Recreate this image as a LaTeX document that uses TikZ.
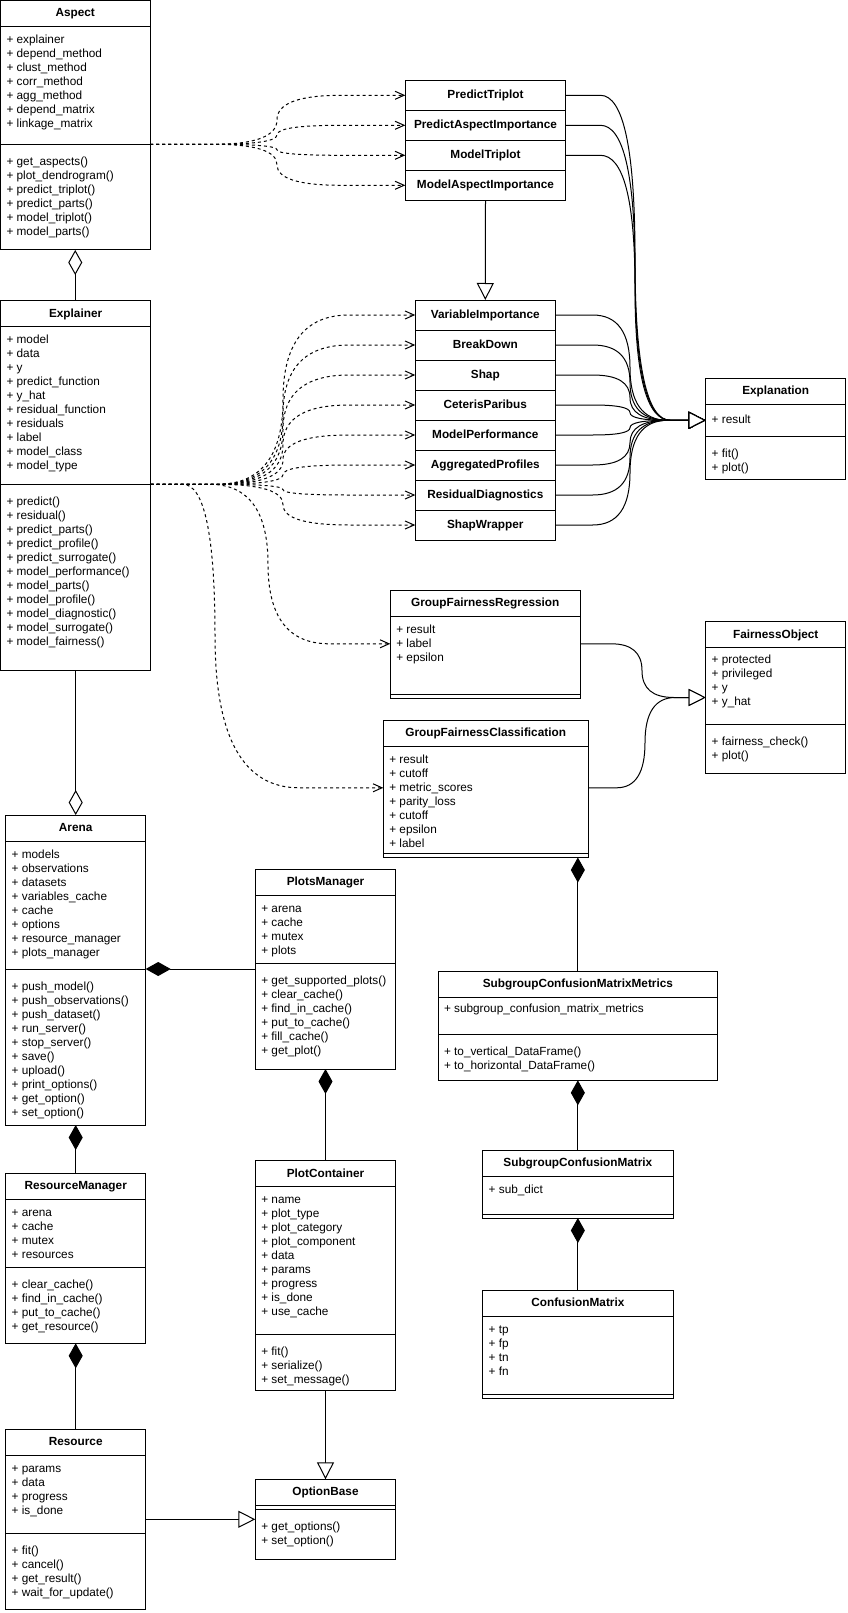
\documentclass[tikz,border=0pt]{standalone}
\usepackage{fontspec}
\setmainfont{Liberation Sans}
\usetikzlibrary{arrows.meta,calc}
\newcommand\dfont{\fontsize{11.8}{14}\selectfont}
\newcommand\ocurve[4][]{%
 \draw[#1] let \p1=(#2), \p2=(#4), \p3=(#3,0) in
   (\p1) -- ({(\x1+\x3)/2},\y1)
   .. controls ({\x1/6+5*\x3/6},\y1) and (\x3,{5*\y1/6+\y2/6})
   .. (\x3,{(\y1+\y2)/2})
   .. controls (\x3,{\y1/6+5*\y2/6}) and ({5*\x3/6+\x2/6},\y2)
   .. ({(\x3+\x2)/2},\y2) -- (\p2);}
\newcommand\clsbox[6]{%
  \node[umlbox, minimum width={#4-(#2)}, minimum height={#5-(#3)}] (#1) at (#2,#3) {};
  \node[ttl] (#1-t) at ({(#2+#4)/2},{#3+13}) {#6};
  \draw[lw] (#2,#3+26) -- (#4,#3+26);}
\newcommand\uattrs[4]{\foreach \t [count=\i from 0] in {#4}{\node[txt] (#1-a\i) at (#2+6,#3+39.5+14*\i) {\t};}}
\newcommand\umeths[4]{\foreach \t [count=\i from 0] in {#4}{\node[txt] (#1-m\i) at (#2+6,#3+18+14*\i) {\t};}}
\newcommand\hsep[3]{\draw[lw] (#1,#3) -- (#2,#3);}
\begin{document}
\begin{tikzpicture}[x=1pt,y=-1pt,
  every node/.style={inner sep=0pt,outer sep=0pt},
  font=\dfont,
  lw/.style={line width=1pt},
  umlbox/.style={draw,line width=1pt,anchor=north west},
  txt/.style={anchor=west,text height=9pt,text depth=2pt,font=\dfont},
  ttl/.style={anchor=center,text height=9pt,text depth=2pt,font=\dfont\bfseries},
  rowbox/.style={draw,line width=1pt,anchor=north west,minimum height=30pt,text height=9pt,text depth=2pt,font=\dfont\bfseries},
  dep/.style={line width=1pt,dash pattern=on 3pt off 3pt,-{Straight Barb[length=9pt,width=8pt]}},
  inh/.style={line width=1pt,-{Triangle[fill=white,length=17pt,width=17pt]}},
  agg/.style={line width=1pt,{Diamond[fill=white,length=25pt,width=14pt]}-},
  aggend/.style={line width=1pt,-{Diamond[fill=white,length=25pt,width=14pt]}},
  comp/.style={line width=1pt,{Diamond[length=25pt,width=14pt]}-}
]
\fill[white] (0,0) rectangle (847,1613);
\useasboundingbox (0,0) rectangle (847,1613);

% ---------- Aspect
\clsbox{asp}{0.5}{0.5}{150}{250}{Aspect}
\uattrs{asp}{0.5}{0.5}{+ explainer,+ depend\_method,+ clust\_method,+ corr\_method,+ agg\_method,+ depend\_matrix,+ linkage\_matrix}
\hsep{0.5}{150}{144.3}
\umeths{asp}{0.5}{144.3}{+ get\_aspects(),+ plot\_dendrogram(),+ predict\_triplot(),+ predict\_parts(),+ model\_triplot(),+ model\_parts()}

% ---------- Explainer
\clsbox{exr}{0.5}{300.7}{150.7}{670}{Explainer}
\uattrs{exr}{0.5}{300.7}{+ model,+ data,+ y,+ predict\_function,+ y\_hat,+ residual\_function,+ residuals,+ label,+ model\_class,+ model\_type}
\hsep{0.5}{150.7}{484.3}
\umeths{exr}{0.5}{484.3}{+ predict(),+ residual(),+ predict\_parts(),+ predict\_profile(),+ predict\_surrogate(),+ model\_performance(),+ model\_parts(),+ model\_profile(),+ model\_diagnostic(),+ model\_surrogate(),+ model\_fairness()}

% ---------- Arena
\clsbox{arena}{5.7}{815}{145.7}{1125}{Arena}
\uattrs{arena}{5.7}{815}{+ models,+ observations,+ datasets,+ variables\_cache,+ cache,+ options,+ resource\_manager,+ plots\_manager}
\hsep{5.7}{145.7}{969}
\umeths{arena}{5.7}{969}{+ push\_model(),+ push\_observations(),+ push\_dataset(),+ run\_server(),+ stop\_server(),+ save(),+ upload(),+ print\_options(),+ get\_option(),+ set\_option()}

% ---------- ResourceManager
\clsbox{rm}{5.7}{1173.3}{145.7}{1343.3}{ResourceManager}
\uattrs{rm}{5.7}{1173.3}{+ arena,+ cache,+ mutex,+ resources}
\hsep{5.7}{145.7}{1267}
\umeths{rm}{5.7}{1267}{+ clear\_cache(),+ find\_in\_cache(),+ put\_to\_cache(),+ get\_resource()}

% ---------- Resource
\clsbox{res}{5.7}{1429.3}{145.7}{1609.3}{Resource}
\uattrs{res}{5.7}{1429.3}{+ params,+ data,+ progress,+ is\_done}
\hsep{5.7}{145.7}{1533.3}
\umeths{res}{5.7}{1533.3}{+ fit(),+ cancel(),+ get\_result(),+ wait\_for\_update()}

% ---------- PlotsManager
\clsbox{pm}{255.3}{869.3}{395.7}{1069}{PlotsManager}
\uattrs{pm}{255.3}{869.3}{+ arena,+ cache,+ mutex,+ plots}
\hsep{255.3}{395.7}{963.3}
\umeths{pm}{255.3}{963.3}{+ get\_supported\_plots(),+ clear\_cache(),+ find\_in\_cache(),+ put\_to\_cache(),+ fill\_cache(),+ get\_plot()}

% ---------- PlotContainer
\clsbox{pc}{255.3}{1160.7}{395.7}{1390}{PlotContainer}
\uattrs{pc}{255.3}{1160.7}{+ name,+ plot\_type,+ plot\_category,+ plot\_component,+ data,+ params,+ progress,+ is\_done,+ use\_cache}
\hsep{255.3}{395.7}{1334.3}
\umeths{pc}{255.3}{1334.3}{+ fit(),+ serialize(),+ set\_message()}

% ---------- OptionBase
\clsbox{ob}{255.3}{1479.3}{395.7}{1559.3}{OptionBase}
\hsep{255.3}{395.7}{1509}
\umeths{ob}{255.3}{1509}{+ get\_options(),+ set\_option()}

% ---------- Explanation
\clsbox{exn}{705.7}{378.3}{845.7}{479.7}{Explanation}
\uattrs{exn}{705.7}{380.3}{+ result}
\hsep{705.7}{845.7}{436.3}
\umeths{exn}{705.7}{436.3}{+ fit(),+ plot()}

% ---------- FairnessObject
\clsbox{fo}{705.7}{621.7}{845.7}{773.3}{FairnessObject}
\uattrs{fo}{705.7}{620}{+ protected,+ privileged,+ y,+ y\_hat}
\hsep{705.7}{845.7}{724.3}
\umeths{fo}{705.7}{724.3}{+ fairness\_check(),+ plot()}

% ---------- GroupFairnessRegression
\clsbox{gfr}{390.3}{590.3}{580.3}{698}{GroupFairnessRegression}
\uattrs{gfr}{390.3}{590.3}{+ result,+ label,+ epsilon}
\hsep{390.3}{580.3}{694.3}

% ---------- GroupFairnessClassification
\clsbox{gfc}{383.3}{720.3}{588}{857.5}{GroupFairnessClassification}
\uattrs{gfc}{383.3}{720.3}{+ result,+ cutoff,+ metric\_scores,+ parity\_loss,+ cutoff,+ epsilon,+ label}
\hsep{383.3}{588}{853.5}

% ---------- SubgroupConfusionMatrixMetrics
\clsbox{scmm}{438}{971}{717.7}{1080.3}{SubgroupConfusionMatrixMetrics}
\uattrs{scmm}{438}{969.5}{+ subgroup\_confusion\_matrix\_metrics}
\hsep{438}{717.7}{1034.3}
\umeths{scmm}{438}{1034.3}{+ to\_vertical\_DataFrame(),+ to\_horizontal\_DataFrame()}

% ---------- SubgroupConfusionMatrix
\clsbox{scm}{482.7}{1150.2}{673}{1218}{SubgroupConfusionMatrix}
\uattrs{scm}{482.7}{1150.2}{+ sub\_dict}
\hsep{482.7}{673}{1214}

% ---------- ConfusionMatrix
\clsbox{cm}{482.7}{1290.3}{673}{1398}{ConfusionMatrix}
\uattrs{cm}{482.7}{1290.3}{+ tp,+ fp,+ tn,+ fn}
\hsep{482.7}{673}{1394.3}

% ---------- stacked explanation classes
\foreach \n [count=\i] in {PredictTriplot,PredictAspectImportance,ModelTriplot,ModelAspectImportance}
  \node[rowbox,minimum width=160.4pt] (pt\i) at (405.3,{80.3+30*(\i-1)}) {\n};
\foreach \n [count=\i] in {VariableImportance,BreakDown,Shap,CeterisParibus,ModelPerformance,AggregatedProfiles,ResidualDiagnostics,ShapWrapper}
  \node[rowbox,minimum width=140pt] (vi\i) at (415.3,{300+30*(\i-1)}) {\n};

% ---------- connection points
\coordinate (aspOut) at ($(asp.north east)+(0,143.8)$);
\coordinate (exrOut) at ($(exr.north east)+(0,183.6)$);
\coordinate (exnIn) at ($(exn.north west)+(0,42)$);
\coordinate (gfrIn) at (gfr.west |- gfr-a1.west);
\coordinate (gfrOut) at (gfr.east |- gfr-a1.west);
\coordinate (gfcIn) at (gfc.west |- gfc-a2.west);
\coordinate (gfcOut) at (gfc.east |- gfc-a2.west);
\coordinate (arOut) at ($(arena.north east)+(0,154)$);

% ---------- dependencies (dashed)
\foreach \i in {1,...,4} {\ocurve[dep]{aspOut}{277}{pt\i.west}}
\foreach \i in {1,...,8} {\ocurve[dep]{exrOut}{283}{vi\i.west}}
\ocurve[dep]{exrOut}{268}{gfrIn}
\ocurve[dep]{exrOut}{215}{gfcIn}

% ---------- inheritance
\foreach \i in {1,...,3} {\ocurve[inh]{pt\i.east}{635}{exnIn}}
\foreach \i in {1,...,8} {\ocurve[inh]{vi\i.east}{630}{exnIn}}
\ocurve[inh]{gfrOut}{642}{fo.west}
\ocurve[inh]{gfcOut}{645}{fo.west}
\draw[inh] (pt4.south) -- (vi1.north);
\draw[inh] (pc.south) -- (ob.north);
\draw[inh] (res.east) -- (ob.west);

% ---------- aggregation / composition
\draw[agg] (asp.south) -- (asp.south |- exr.north);
\draw[aggend] (arena.north |- exr.south) -- (arena.north);
\draw[comp] (arena.south) -- (rm.north);
\draw[comp] (rm.south) -- (res.north);
\draw[comp] (arOut) -- (pm.west |- arOut);
\draw[comp] (pm.south) -- (pc.north);
\draw[comp] (scmm.north |- gfc.south) -- (scmm.north);
\draw[comp] (scmm.south) -- (scm.north);
\draw[comp] (scm.south) -- (cm.north);
\end{tikzpicture}
\end{document}
